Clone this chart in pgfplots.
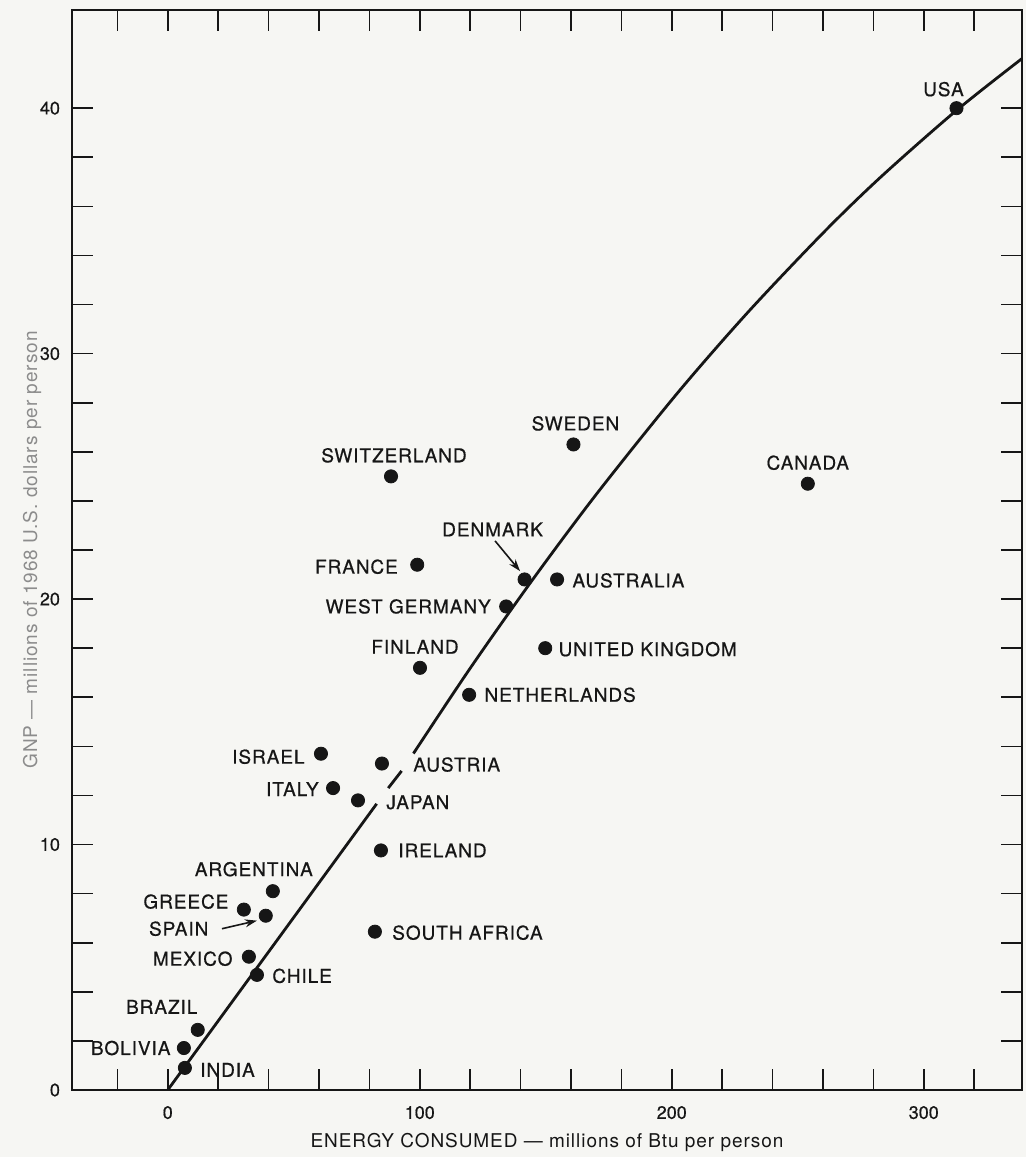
\documentclass[border=0pt]{standalone}
\usepackage{fontspec}
\setmainfont[FakeBold=0.6]{TeX Gyre Heros}
\newfontfamily\spaced[LetterSpace=5, FakeBold=0.6]{TeX Gyre Heros}
\newfontfamily\spacedlight[LetterSpace=5]{TeX Gyre Heros}
\usepackage{pgfplots}
\pgfplotsset{compat=1.18}
\usetikzlibrary{arrows.meta,backgrounds}
\definecolor{paper}{RGB}{246,246,243}
\definecolor{ink}{RGB}{22,22,22}

% GNP per person against energy use per person, 1968
\pgfplotstableread{
x     y
313   40.0
254   24.7
161   26.3
88.6  25.0
99    21.4
141.6 20.8
154.5 20.8
134.3 19.7
149.8 18.0
100.1 17.2
119.6 16.1
60.8  13.7
85    13.3
65.6  12.3
75.5  11.8
84.6  9.76
41.7  8.1
30.2  7.35
38.9  7.1
82.2  6.45
32.2  5.43
35.4  4.69
11.9  2.45
6.4   1.71
6.8   0.9
}\countries

% trend line, upper (curving) part
\pgfplotstableread{
x     y
97.5  13.71
120   17.18
144.5 20.75
170   24.26
202   28.36
230   31.66
260   34.91
283   37.20
313   39.91
340   42.10
}\trendupper

\begin{document}
\begin{tikzpicture}[
  background rectangle/.style={fill=paper},
  show background rectangle,
  lab/.style={font=\spaced\fontsize{9.5}{11}\selectfont, inner sep=0pt, text=ink},
  pointer/.style={ink, line width=0.8pt, -{Stealth[length=6pt,width=4pt]}}
]
\useasboundingbox (-36pt,-33.5pt) rectangle (477pt,545pt);
\begin{axis}[
  at={(0,0)}, anchor=south west,
  scale only axis, width=475pt, height=540pt,
  xmin=-38, xmax=339, ymin=0, ymax=44,
  xtick={-20,0,...,320},
  xticklabels={,0,,,,,100,,,,,200,,,,,300,},
  ytick={0,2,...,40},
  yticklabels={0,,,,,10,,,,,20,,,,,30,,,,,40},
  tick align=inside,
  major tick length=10.5pt,
  tick style={ink, line width=0.8pt},
  axis line style={ink, line width=1.2pt},
  /pgf/number format/assume math mode=true,
  ticklabel style={font=\fontsize{9}{10}\selectfont, text=ink},
  xticklabel style={yshift=-4.5pt},
  yticklabel style={xshift=-2.5pt},
  xlabel={\spacedlight\fontsize{9.5}{11}\selectfont ENERGY CONSUMED — millions of Btu per person},
  xlabel style={at={(axis description cs:0.5,-0.049)}, anchor=center, text=ink},
  ylabel={\spacedlight\fontsize{9.5}{11}\selectfont GNP — millions of 1968 U.S. dollars per person},
  ylabel style={at={(axis description cs:-0.042,0.5)}, anchor=center, text=black!45},
]
% trend line, broken where it passes the AUSTRIA and JAPAN labels
\addplot[ink, line width=1.4pt, mark=none] coordinates {(0,0) (82.9,11.66)};
\addplot[ink, line width=1.4pt, mark=none] coordinates {(87.5,12.3) (92.8,13.0)};
\addplot[ink, line width=1.4pt, mark=none, smooth] table[x=x, y=y] {\trendupper};

\addplot[only marks, mark=*, mark size=3.3pt, ink, mark options={fill=ink, draw=ink}] table[x=x, y=y] {\countries};

\node[lab, xshift=-6.5pt, yshift=9.5pt] at (axis cs:313,40) {USA};
\node[lab, yshift=10.5pt] at (axis cs:254,24.7) {CANADA};
\node[lab, xshift=1pt, yshift=10.5pt] at (axis cs:161,26.3) {SWEDEN};
\node[lab, xshift=1.5pt, yshift=10.5pt] at (axis cs:88.6,25.0) {SWITZERLAND};
\node[lab, xshift=-16pt, yshift=25pt] at (axis cs:141.6,20.8) {DENMARK};
\node[lab, anchor=east, xshift=-9.5pt, yshift=-1pt] at (axis cs:99,21.4) {FRANCE};
\node[lab, anchor=west, xshift=7.5pt, yshift=-0.5pt] at (axis cs:154.5,20.8) {AUSTRALIA};
\node[lab, anchor=east, xshift=-7.5pt] at (axis cs:134.3,19.7) {WEST GERMANY};
\node[lab, xshift=-2.5pt, yshift=10.5pt] at (axis cs:100.1,17.2) {FINLAND};
\node[lab, anchor=west, xshift=6.5pt, yshift=-0.5pt] at (axis cs:149.8,18.0) {UNITED KINGDOM};
\node[lab, anchor=west, xshift=7.5pt] at (axis cs:119.6,16.1) {NETHERLANDS};
\node[lab, anchor=east, xshift=-8pt, yshift=-1.5pt] at (axis cs:60.8,13.7) {ISRAEL};
\node[lab, anchor=west, xshift=15.5pt, yshift=-0.5pt] at (axis cs:85,13.3) {AUSTRIA};
\node[lab, anchor=east, xshift=-7pt, yshift=-0.5pt] at (axis cs:65.6,12.3) {ITALY};
\node[lab, anchor=west, xshift=14pt, yshift=-1pt] at (axis cs:75.5,11.8) {JAPAN};
\node[lab, anchor=west, xshift=8.5pt] at (axis cs:84.6,9.76) {IRELAND};
\node[lab, xshift=-9.5pt, yshift=11pt] at (axis cs:41.7,8.1) {ARGENTINA};
\node[lab, anchor=east, xshift=-7.5pt, yshift=4pt] at (axis cs:30.2,7.35) {GREECE};
\node[lab, anchor=east, xshift=-28.5pt, yshift=-6.5pt] at (axis cs:38.9,7.1) {SPAIN};
\node[lab, anchor=west, xshift=8.5pt, yshift=-0.5pt] at (axis cs:82.2,6.45) {SOUTH AFRICA};
\node[lab, anchor=east, xshift=-8pt, yshift=-1pt] at (axis cs:32.2,5.43) {MEXICO};
\node[lab, anchor=west, xshift=7.5pt, yshift=-0.5pt] at (axis cs:35.4,4.69) {CHILE};
\node[lab, xshift=-18pt, yshift=11.5pt] at (axis cs:11.9,2.45) {BRAZIL};
\node[lab, anchor=east, xshift=-6.5pt] at (axis cs:6.4,1.71) {BOLIVIA};
\node[lab, anchor=west, xshift=7.5pt, yshift=-1pt] at (axis cs:6.8,0.9) {INDIA};

\draw[pointer] (axis cs:129.9,22.37) -- (axis cs:139.8,21.14);
\draw[pointer] (axis cs:21.5,6.57) -- (axis cs:35.4,6.9);
\end{axis}
\end{tikzpicture}
\end{document}
